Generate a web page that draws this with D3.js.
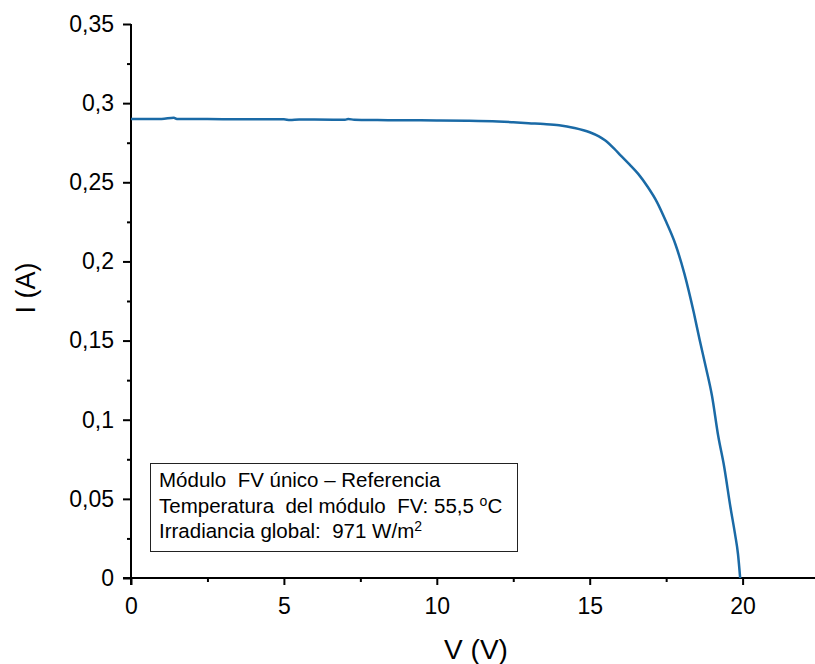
<!DOCTYPE html>
<html>
<head>
<meta charset="utf-8">
<script src="https://cdn.jsdelivr.net/npm/d3@7"></script>
<style>
  body { margin: 0; background: #fff; }
  svg { display: block; font-family: "Liberation Sans", Arial, sans-serif; }
  .axis path, .axis line { stroke: #000; stroke-width: 2; }
  .axis text { font-size: 23px; fill: #000; }
  .legend text { font-size: 20.5px; fill: #000; }
</style>
</head>
<body>
<div id="chart"></div>
<script>
const voltage = [0, 0.5, 1, 1.4, 1.5, 2, 3, 4, 5, 5.2, 5.5, 6, 7, 7.1, 7.3, 8, 9, 10, 11, 12, 12.5, 13, 13.5, 14, 14.5, 15, 15.3, 15.5, 15.8, 16, 16.3, 16.6, 16.9, 17.2, 17.5, 17.8, 18.1, 18.4, 18.6, 18.8, 19, 19.2, 19.4, 19.6, 19.75, 19.85, 19.92];
const current = [0.2900, 0.2900, 0.2900, 0.2908, 0.2900, 0.2900, 0.2899, 0.2899, 0.2898, 0.2893, 0.2897, 0.2896, 0.2895, 0.2900, 0.2895, 0.2893, 0.2892, 0.2891, 0.2889, 0.2884, 0.2879, 0.2873, 0.2868, 0.2860, 0.2843, 0.2816, 0.2790, 0.2765, 0.2712, 0.2672, 0.2613, 0.2550, 0.2470, 0.2375, 0.2250, 0.2110, 0.1920, 0.1680, 0.1500, 0.1330, 0.1150, 0.0900, 0.0700, 0.0450, 0.0280, 0.0150, 0.0000];

const yTicks = [0, 0.05, 0.1, 0.15, 0.2, 0.25, 0.3, 0.35];
const yMinor = [0.025, 0.075, 0.125, 0.175, 0.225, 0.275, 0.325];
const xTicks = [0, 5, 10, 15, 20];
const xMinor = [2.5, 7.5, 12.5, 17.5];

const legendLines = ["Módulo  FV único – Referencia", "Temperatura  del módulo  FV: 55,5 ", "Irradiancia global:  971 W/m"];

const w = 815;
const h = 664;

const x = d3.scaleLinear().domain([0, 22.4]).range([131, 816]);
const y = d3.scaleLinear().domain([0, 0.35]).range([578, 24]);
const fmt = (d) => String(d).replace(".", ",");

const svg = d3.select("#chart")
      .append("svg")
      .attr("width", w)
      .attr("height", h);

//minor ticks first, so the main axes sit on top
svg.append("g")
      .attr("class", "axis")
      .attr("transform", `translate(0,${y(0)})`)
      .call(d3.axisBottom(x).tickValues(xMinor).tickSize(4).tickFormat(""))
      .select(".domain").remove();

svg.append("g")
      .attr("class", "axis")
      .attr("transform", `translate(${x(0)},0)`)
      .call(d3.axisLeft(y).tickValues(yMinor).tickSize(4).tickFormat(""))
      .select(".domain").remove();

//x axis
const gx = svg.append("g")
      .attr("class", "axis")
      .attr("transform", `translate(0,${y(0)})`)
      .call(d3.axisBottom(x).tickValues(xTicks).tickSize(7).tickSizeOuter(0).tickPadding(13).tickFormat(fmt));
gx.select(".domain").attr("d", `M${x(0) - 8},0H${w}`);

//y axis
const gy = svg.append("g")
      .attr("class", "axis")
      .attr("transform", `translate(${x(0)},0)`)
      .call(d3.axisLeft(y).tickValues(yTicks).tickSize(8).tickSizeOuter(0).tickPadding(9).tickFormat(fmt));
gy.select(".domain").attr("d", `M0,${y(0.35)}V${y(0) + 7}`);

//curve
const pts = voltage.map((v, i) => [v, current[i]]);
svg.append("path")
      .datum(pts)
      .attr("fill", "none")
      .attr("stroke", "#1a6aa6")
      .attr("stroke-width", 2.5)
      .attr("stroke-linejoin", "round")
      .attr("d", d3.line().curve(d3.curveMonotoneX).x((d) => x(d[0])).y((d) => y(d[1])));

//axis titles
svg.append("text")
      .text("V (V)")
      .attr("x", 476)
      .attr("y", 659)
      .attr("text-anchor", "middle")
      .style("font-size", "28px");

svg.append("text")
      .text("I (A)")
      .attr("transform", "translate(35,288) rotate(-90)")
      .attr("text-anchor", "middle")
      .style("font-size", "27px");

//legend box
const lg = svg.append("g").attr("class", "legend");
lg.append("rect")
      .attr("x", 150.5)
      .attr("y", 463.5)
      .attr("width", 367)
      .attr("height", 88)
      .attr("fill", "#fff")
      .attr("stroke", "#222")
      .attr("stroke-width", 1);

const lt = lg.selectAll("text.line")
      .data(legendLines)
      .enter()
      .append("text")
      .attr("class", "line")
      .attr("x", 159)
      .attr("y", (d, i) => 487 + i * 25.5)
      .attr("xml:space", "preserve")
      .style("white-space", "pre")
      .text((d) => d);

//superscripts
lt.filter((d, i) => i === 1).append("tspan").text("o").attr("dy", -7).style("font-size", "14px");
lt.filter((d, i) => i === 1).append("tspan").text("C").attr("dy", 7);
lt.filter((d, i) => i === 2).append("tspan").text("2").attr("dy", -7).style("font-size", "14px");
</script>
</body>
</html>
